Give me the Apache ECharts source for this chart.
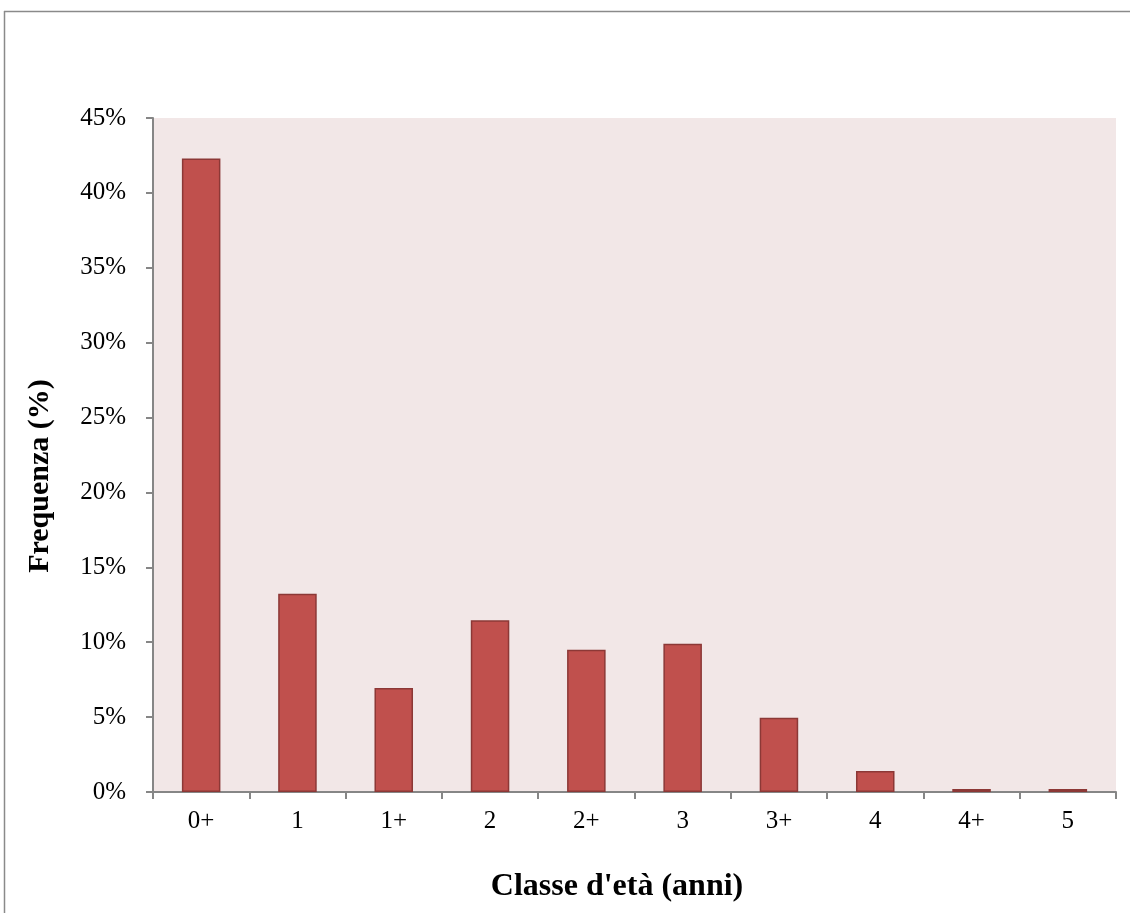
<!DOCTYPE html>
<html><head><meta charset="utf-8">
<script src="https://cdn.jsdelivr.net/npm/echarts@6/dist/echarts.min.js"></script>
<style>html,body{margin:0;padding:0;background:#fff}#c{width:1130px;height:913px}</style>
</head><body><div id="c"></div>
<script>
var categories = ['0+','1','1+','2','2+','3','3+','4','4+','5'];
var frequenza = [42.3, 13.24, 6.94, 11.46, 9.5, 9.9, 4.96, 1.4, 0.2, 0.2];
var yTicks = [0, 5, 10, 15, 20, 25, 30, 35, 40, 45];
var xTitle = "Classe d'età (anni)";
var yTitle = 'Frequenza (%)';

var chart = echarts.init(document.getElementById('c'));
chart.setOption({
  animation: false,
  backgroundColor: '#ffffff',
  graphic: [
    {type: 'line', shape: {x1: 4, y1: 11.5, x2: 1130, y2: 11.5}, style: {stroke: '#8a8a8a', lineWidth: 1.5}},
    {type: 'line', shape: {x1: 4.5, y1: 11, x2: 4.5, y2: 913}, style: {stroke: '#8a8a8a', lineWidth: 1.5}},
    {type: 'text', x: 617, y: 887, style: {text: xTitle, fill: '#000', font: 'bold 32px "Liberation Serif"', textAlign: 'center', textVerticalAlign: 'middle'}},
    {type: 'text', x: 40, y: 476, rotation: Math.PI / 2, style: {text: yTitle, fill: '#000', font: 'bold 30px "Liberation Serif"', textAlign: 'center', textVerticalAlign: 'middle'}}
  ],
  grid: {left: 153, right: 14, top: 118, bottom: 121, show: true, backgroundColor: '#F2E7E7', borderWidth: 0},
  xAxis: {
    type: 'category', data: categories,
    axisLine: {lineStyle: {color: '#868686', width: 2}},
    axisTick: {show: true, length: 7, lineStyle: {color: '#868686', width: 2}},
    axisLabel: {color: '#000', fontFamily: 'Liberation Serif', fontSize: 25, margin: 17}
  },
  yAxis: {
    type: 'value', min: 0, max: 45, interval: 5,
    axisLine: {show: true, lineStyle: {color: '#868686', width: 2}},
    axisTick: {show: true, length: 7, lineStyle: {color: '#868686', width: 2}},
    splitLine: {show: false},
    axisLabel: {color: '#000', fontFamily: 'Liberation Serif', fontSize: 25, margin: 27,
      formatter: function (v) { return yTicks.indexOf(v) >= 0 ? v + '%' : ''; }}
  },
  series: [{
    type: 'bar', data: frequenza, barWidth: '40%',
    itemStyle: {color: '#C0504D', borderColor: '#8C3836', borderWidth: 1.5}
  }]
});
</script></body></html>
